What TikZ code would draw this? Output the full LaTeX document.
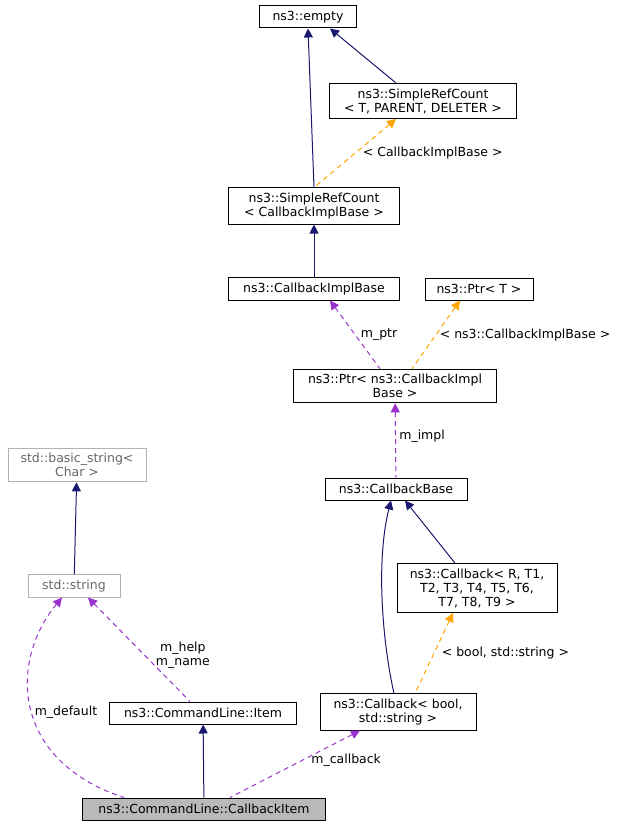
\documentclass[tikz,border=0pt]{standalone}
\usepackage{fontspec}
\setmainfont{DejaVu Sans}
\usetikzlibrary{arrows.meta}
\definecolor{colorpurple}{HTML}{9a32cd}
\definecolor{colornavy}{HTML}{191970}
\definecolor{colororange}{HTML}{ffa500}

\begin{document}
\begin{tikzpicture}
    [x=1pt, y=-1pt, font=\fontsize{12.5}{14}\selectfont,
     >={Triangle[length=9pt, width=9pt]},  % doxygen style arrows
     line width=1pt,
     box/.style={draw=black, fill=white, align=center, inner xsep=2pt, inner ysep=5pt, minimum height=22pt},
     grey/.style={box, draw=gray!60},
     inherit/.style={draw=colornavy, {Triangle[length=9pt, width=9pt]}-},
     use/.style={{Triangle[length=9pt, width=9pt]}-, draw=colorpurple, dash pattern=on 5pt off 4pt},
     templ/.style={{Triangle[length=9pt, width=9pt]}-, draw=colororange, dash pattern=on 5pt off 4pt},
    ]
\useasboundingbox (0,0) rectangle (632,829);

\node[box, minimum width=97pt] (node_empty) at (308,17) {ns3::empty};
\node[box, minimum width=187pt] (node_srct) at (423,101) {ns3::SimpleRefCount\\\textless{} T, PARENT, DELETER \textgreater};
\node[box, minimum width=171pt] (node_srccib) at (314,206) {ns3::SimpleRefCount\\\textless{} CallbackImplBase \textgreater};
\node[box, minimum width=171pt] (node_cib) at (314,289) {ns3::CallbackImplBase};
\node[box, minimum width=108pt] (node_ptrt) at (479,289) {ns3::Ptr\textless{} T \textgreater};
\node[box, minimum width=203pt] (node_ptrcib) at (395,386) {ns3::Ptr\textless{} ns3::CallbackImpl\\Base \textgreater};
\node[box, minimum width=142pt] (node_cbbase) at (396,489) {ns3::CallbackBase};
\node[box, minimum width=160pt] (node_cbr) at (477,588) {ns3::Callback\textless{} R, T1,\\T2, T3, T4, T5, T6,\\T7, T8, T9 \textgreater};
\node[box, minimum width=156pt] (node_cbbool) at (398,712) {ns3::Callback\textless{} bool,\\std::string \textgreater};
\node[grey, minimum width=138pt, text=gray!80!black] (node_basic) at (77,465) {std::basic\_string\textless\\Char \textgreater};
\node[grey, minimum width=92pt, text=gray!80!black] (node_string) at (74,586) {std::string};
\node[box, minimum width=187pt] (node_item) at (203,713) {ns3::CommandLine::Item};
\node[box, minimum width=243pt, fill=gray!55] (node_cbitem) at (204,809) {ns3::CommandLine::CallbackItem};

\draw[inherit] (node_empty.south) -- (node_srccib.north);
\draw[inherit] ([xshift=-27pt]node_empty.south east) -- ([xshift=-27pt]node_srct.north);
\draw[inherit] (node_srccib) -- (node_cib);
\draw[inherit] (node_basic) -- (node_string);
\draw[inherit] (node_item) -- (node_cbitem);
\draw[inherit] ([xshift=-5pt]node_cbbase.south) .. controls (376,560) and (382,640) .. ([xshift=-4pt]node_cbbool.north);
\draw[inherit] ([xshift=9pt]node_cbbase.south) -- ([xshift=-22pt]node_cbr.north);

\draw[templ] ([xshift=-27pt]node_srct.south) -- node[right, pos=0.5, xshift=4pt] {\textless{} CallbackImplBase \textgreater} (node_srccib.north);
\draw[templ] ([xshift=-19pt]node_ptrt.south) -- node[right, pos=0.5, xshift=0pt] {\textless{} ns3::CallbackImplBase \textgreater} ([xshift=17pt]node_ptrcib.north);
\draw[templ] ([xshift=-24pt]node_cbr.south) -- node[right, pos=0.5, xshift=4pt] {\textless{} bool, std::string \textgreater} ([xshift=17pt]node_cbbool.north);

\draw[use] ([xshift=16pt]node_cib.south) -- node[right, pos=0.5, xshift=2pt] {m\_ptr} ([xshift=-15pt]node_ptrcib.north);
\draw[use] (node_ptrcib) -- node[right, pos=0.45] {m\_impl} (node_cbbase);
\draw[use] ([xshift=14pt]node_string.south) -- node[right, pos=0.55, align=center, xshift=8pt] {m\_help\\m\_name} ([xshift=-13pt]node_item.north);
\draw[use] ([xshift=-12pt]node_string.south) .. controls (10,660) and (10,760) .. ([xshift=-80pt]node_cbitem.north);
\node (lbl_default) at (66,712) {m\_default};
\draw[use] ([xshift=-38pt]node_cbbool.south) -- node[right, pos=0.45, xshift=6pt] {m\_callback} ([xshift=26pt]node_cbitem.north);

\end{tikzpicture}
\end{document}
